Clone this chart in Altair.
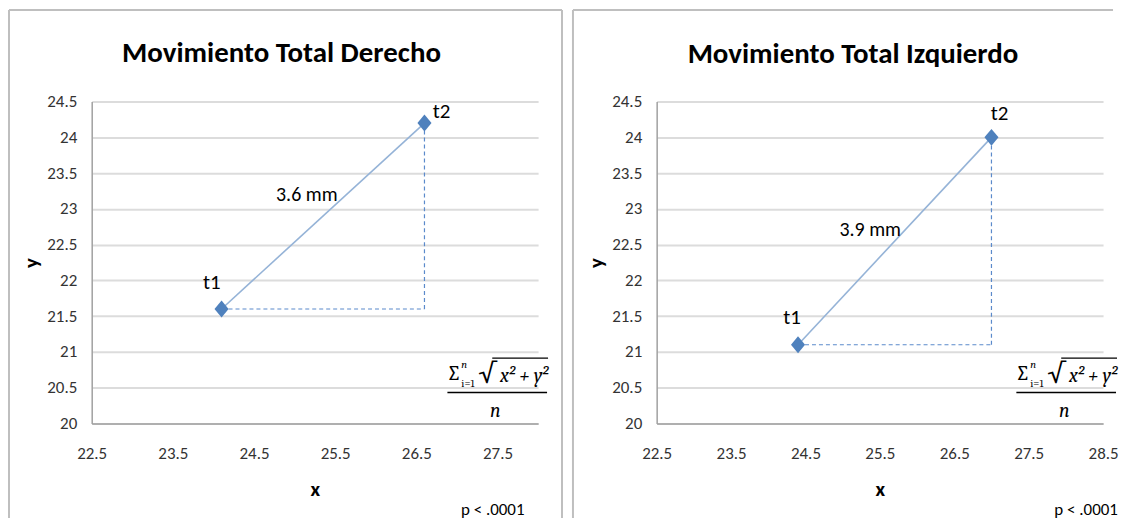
import altair as alt
import pandas as pd

# ---------------- data ----------------
titles = ["Movimiento Total Derecho", "Movimiento Total Izquierdo"]
point_names = ["t1", "t2"]
derecho_x = [24.1, 26.6]
derecho_y = [21.6, 24.2]
izquierdo_x = [24.4, 27.0]
izquierdo_y = [21.1, 24.0]
distance_labels = ["3.6 mm", "3.9 mm"]
x_domains = [[22.5, 28.0], [22.5, 28.5]]
x_tick_values = [
    [22.5, 23.5, 24.5, 25.5, 26.5, 27.5],
    [22.5, 23.5, 24.5, 25.5, 26.5, 27.5, 28.5],
]
y_domain = [20.0, 24.5]
y_tick_values = [20.0, 20.5, 21.0, 21.5, 22.0, 22.5, 23.0, 23.5, 24.0, 24.5]
# annotation anchor positions (data units)
derecho_label_x = [23.98, 26.81]
derecho_label_y = [21.96, 24.35]
izquierdo_label_x = [24.32, 27.11]
izquierdo_label_y = [21.48, 24.33]
distance_label_x = [25.15, 25.37]
distance_label_y = [23.19, 22.70]
p_value_text = "p < .0001"
axis_titles = ["x", "y"]

# ---------------- styles ----------------
W, H = 448, 323
FONT = "Carlito, Roboto Condensed, sans-serif"
SERIF = "Caladea, Liberation Serif, serif"
POINT_COLOR = "#4F81BD"
LINE_COLOR = "#95B3D7"
DASH_COLOR = "#5B8ACB"
BORDER = "#BFBFBF"
DIAMOND = "M0,-1.2L1,0L0,1.2L-1,0Z"
LABEL_EXPR = "'' + datum.value"

# per-panel decoration offsets (pixels relative to plot origin)
layout = [
    dict(title_x=190.5, title_y=-49, fx0=357, p_x=402.5, border_right=472, border_left=-83),
    dict(title_x=197, title_y=-48, fx0=361, p_x=431, border_right=None, border_left=-84),
]


def one():
    return alt.Data(values=[{"k": 0}])


def build_panel(i, xs, ys, lab_x, lab_y):
    lay = layout[i]
    xscale = alt.Scale(domain=x_domains[i], nice=False, zero=False)
    yscale = alt.Scale(domain=y_domain, nice=False, zero=False)
    xaxis = alt.Axis(values=x_tick_values[i], labelExpr=LABEL_EXPR, title=axis_titles[0], grid=False)
    yaxis = alt.Axis(values=y_tick_values, labelExpr=LABEL_EXPR, title=axis_titles[1], grid=True)

    def X(f):
        return alt.X(f, type="quantitative", scale=xscale, axis=xaxis)

    def Y(f):
        return alt.Y(f, type="quantitative", scale=yscale, axis=yaxis)

    pts = pd.DataFrame({"x": xs, "y": ys, "name": point_names, "order": [0, 1]})
    seg = pd.DataFrame(
        {
            "x": [xs[0], xs[1]],
            "x2": [xs[1], xs[1]],
            "y": [ys[0], ys[0]],
            "y2": [ys[0], ys[1]],
        }
    )
    labs = pd.DataFrame({"x": lab_x, "y": lab_y, "name": point_names})
    dist = pd.DataFrame(
        {"x": [distance_label_x[i]], "y": [distance_label_y[i]], "t": [distance_labels[i]]}
    )

    dashed = alt.Chart(seg).mark_rule(
        color=DASH_COLOR, strokeWidth=1.2, strokeDash=[4, 3]
    ).encode(x=X("x"), x2="x2", y=Y("y"), y2="y2")

    line = alt.Chart(pts).mark_line(color=LINE_COLOR, strokeWidth=1.6).encode(
        x=X("x"), y=Y("y"), order="order"
    )

    diamonds = alt.Chart(pts).mark_point(
        shape=DIAMOND, size=200, filled=True, fill=POINT_COLOR, opacity=1, strokeWidth=0
    ).encode(x=X("x"), y=Y("y"))

    name_text = alt.Chart(labs).mark_text(
        font=FONT, fontSize=21, color="#000000", baseline="middle", align="center"
    ).encode(x=X("x"), y=Y("y"), text="name")

    dist_text = alt.Chart(dist).mark_text(
        font=FONT, fontSize=20, color="#000000", baseline="middle", align="center"
    ).encode(x=X("x"), y=Y("y"), text="t")

    def txt(s, px, py, size, font=FONT, weight="normal", style="normal", align="center"):
        return alt.Chart(one()).mark_text(
            font=font, fontSize=size, fontWeight=weight, fontStyle=style,
            align=align, baseline="middle", color="#000000",
        ).encode(x=alt.value(px), y=alt.value(py), text=alt.value(s))

    def hrule(x1, x2, y, color="#000000", width=1.3):
        return alt.Chart(one()).mark_rule(color=color, strokeWidth=width).encode(
            x=alt.value(x1), x2=alt.value(x2), y=alt.value(y)
        )

    def vrule(x, y1, y2, color=BORDER, width=2):
        return alt.Chart(one()).mark_rule(color=color, strokeWidth=width).encode(
            x=alt.value(x), y=alt.value(y1), y2=alt.value(y2)
        )

    fx0 = lay["fx0"]
    deco = [
        txt(titles[i], lay["title_x"], lay["title_y"], 29, weight="bold"),
        txt(p_value_text, lay["p_x"], 410, 17),
        # formula: sum_{i=1}^{n} sqrt(x^2 + y^2) / n
        txt("∑", fx0 - 1, 273, 21, font=SERIF, align="left"),
        txt("n", fx0 + 14, 264, 11, font=SERIF, style="italic", align="left"),
        txt("i=1", fx0 + 14, 283, 11, font=SERIF, align="left"),
        txt("√", fx0 + 31, 273, 28, font=SERIF, align="left"),
        txt("x² + y²", fx0 + 101, 275, 20, font=SERIF, style="italic", align="right"),
        hrule(fx0 + 45, fx0 + 101, 257.5, width=1.2),
        hrule(fx0, fx0 + 100, 292, width=1.6),
        txt("n", fx0 + 48, 311, 20, font=SERIF, style="italic"),
        # chart frame
        vrule(lay["border_left"], -92, 418),
        hrule(lay["border_left"], (lay["border_right"] if lay["border_right"] else 458), -92,
              color=BORDER, width=2),
    ]
    if lay["border_right"] is not None:
        deco.append(vrule(lay["border_right"], -92, 418))

    return alt.layer(dashed, line, diamonds, name_text, dist_text, *deco).properties(
        width=W, height=H
    )


left = build_panel(0, derecho_x, derecho_y, derecho_label_x, derecho_label_y)
right = build_panel(1, izquierdo_x, izquierdo_y, izquierdo_label_x, izquierdo_label_y)

chart = (
    alt.hconcat(left, right, spacing=9)
    .properties(padding=0, background="white")
    .configure_view(strokeWidth=0)
    .configure_axisX(
        domainColor="#A0A0A0", domainWidth=1.5, ticks=False, labelFont=FONT,
        labelFontSize=17, labelColor="#333333", labelPadding=22, labelFlush=False,
        titleFont=FONT, titleFontSize=21, titleFontWeight="bold", titleColor="#000000",
        titlePadding=17,
    )
    .configure_axisY(
        domainColor="#A0A0A0", domainWidth=1.5, ticks=False, labelFont=FONT,
        labelFontSize=17, labelColor="#333333", labelPadding=15, labelFlush=False,
        gridColor="#DCDCDC", gridWidth=2,
        titleFont=FONT, titleFontSize=21, titleFontWeight="bold", titleColor="#000000",
        titlePadding=5,
    )
)

chart.save("out.html", embed_options={"renderer": "svg", "actions": False})
